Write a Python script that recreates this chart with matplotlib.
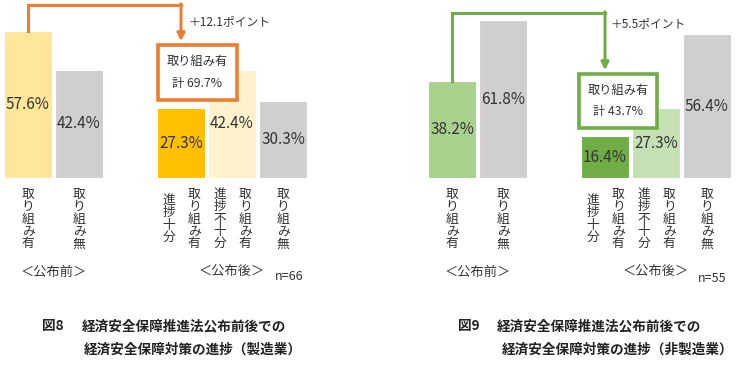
import matplotlib
matplotlib.use("Agg")
import matplotlib.pyplot as plt
from matplotlib.patches import Rectangle

plt.rcParams['font.family'] = ['Noto Sans CJK JP', 'DejaVu Sans']

# ---- data ----
mfg_before = [57.6, 42.4]
mfg_after = [27.3, 42.4, 30.3]
mfg_total = "計 69.7%"
mfg_diff = "＋12.1ポイント"
mfg_n = "n=66"

non_before = [38.2, 61.8]
non_after = [16.4, 27.3, 56.4]
non_total = "計 43.7%"
non_diff = "＋5.5ポイント"
non_n = "n=55"

before_labels = [["取り組み有"], ["取り組み無"]]
after_labels = [["進捗十分", "取り組み有"], ["進捗不十分", "取り組み有"], ["取り組み無"]]
group_labels = ["＜公布前＞", "＜公布後＞"]
box_title = "取り組み有"

titles = [("図8", "経済安全保障推進法公布前後での", "経済安全保障対策の進捗（製造業）"),
          ("図9", "経済安全保障推進法公布前後での", "経済安全保障対策の進捗（非製造業）")]

# ---- styles ----
grey = "#D0CECE"
mfg_colors = ["#FFE699", grey, "#FFC000", "#FFF2CC", grey]
non_colors = ["#A9D18E", grey, "#70AD47", "#C5E0B4", grey]
orange = "#ED7D31"
green = "#70AD47"
txt = "#333333"

W, H = 750, 371
fig = plt.figure(figsize=(W / 100, H / 100), dpi=100)

PX = 2.55          # pixels per percent
BASE = 178         # baseline pixel row
PITCH = 51         # pixels per slot
ylim = (-(H - BASE) / PX, BASE / PX)

positions = [0, 1, 3, 4, 5]


def vtext(ax, x, yc, s, fs=9.2):
    pitch = 12.4 / PX
    n = len(s)
    y0 = yc + (n - 1) / 2 * pitch
    for k, ch in enumerate(s):
        ax.text(x, y0 - k * pitch, ch, ha='center', va='center',
                fontsize=fs, color=txt)


def panel(ax, before, after, colors, accent, total, diff, n, box, arrow_top, diff_xy, n_xy, gl_y):
    ax.axis('off')
    ax.set_ylim(*ylim)
    vals = list(before) + list(after)
    ax.bar(positions, vals, width=0.94, color=colors, edgecolor='white', linewidth=0.8, zorder=1)
    for p, v in zip(positions, vals):
        ax.text(p, v / 2, f"{v:.1f}%", ha='center', va='center', fontsize=11, color=txt, zorder=3)
    # vertical category labels
    labs = before_labels + after_labels
    yc = (BASE - 219) / PX
    for p, lab in zip(positions, labs):
        if len(lab) == 1:
            vtext(ax, p, yc, lab[0])
        else:
            vtext(ax, p - 0.24, yc, lab[0])
            vtext(ax, p + 0.26, yc, lab[1])
    ax.text(0.5, gl_y, group_labels[0], ha='center', va='center', fontsize=9.5, color=txt)
    ax.text(4, gl_y, group_labels[1], ha='center', va='center', fontsize=9.5, color=txt)
    ax.text(n_xy[0], n_xy[1], n, ha='left', va='center', fontsize=9, color=txt)
    # box
    bx0, bx1, by0, by1 = box
    ax.add_patch(Rectangle((bx0, by0), bx1 - bx0, by1 - by0, facecolor='white',
                           edgecolor=accent, linewidth=2.6, zorder=4))
    cx = (bx0 + bx1) / 2
    ax.text(cx, by1 - 6.5, box_title, ha='center', va='center', fontsize=8.8, color=txt, zorder=5)
    ax.text(cx, by0 + 6.3, total, ha='center', va='center', fontsize=8.8, color=txt, zorder=5)
    # connector arrow
    x0 = positions[0]
    x1 = positions[2]
    ax.plot([x0, x0, x1], [before[0], arrow_top, arrow_top], color=accent, lw=2.2,
            solid_joinstyle='miter', zorder=2)
    ax.annotate("", xy=(x1, by1 + 1.5), xytext=(x1, arrow_top + 0.45),
                arrowprops=dict(arrowstyle='-|>', color=accent, lw=2.2,
                                mutation_scale=11, shrinkA=0, shrinkB=0), zorder=2)
    ax.text(diff_xy[0], diff_xy[1], diff, ha='left', va='center', fontsize=8.5, color=txt)


axL = fig.add_axes([0, 0, 0.5, 1])
axL.set_xlim((0 - 28) / PITCH, (375 - 28) / PITCH)
panel(axL, mfg_before, mfg_after, mfg_colors, orange, mfg_total, mfg_diff, mfg_n,
      box=((158 - 28) / PITCH, (237 - 28) / PITCH, (BASE - 100) / PX, (BASE - 45) / PX),
      arrow_top=(BASE - 5) / PX, diff_xy=((188 - 28) / PITCH, (BASE - 22) / PX),
      n_xy=((275 - 28) / PITCH, (BASE - 276) / PX), gl_y=(BASE - 272) / PX)

axR = fig.add_axes([0.5, 0, 0.5, 1])
axR.set_xlim((375 - 452) / PITCH, (750 - 452) / PITCH)
panel(axR, non_before, non_after, non_colors, green, non_total, non_diff, non_n,
      box=((579 - 452) / PITCH, (657 - 452) / PITCH, (BASE - 128) / PX, (BASE - 74) / PX),
      arrow_top=(BASE - 13) / PX, diff_xy=((610 - 452) / PITCH, (BASE - 24) / PX),
      n_xy=((698 - 452) / PITCH, (BASE - 278) / PX), gl_y=(BASE - 272) / PX)

# titles
for (fig_no, l1, l2), (xn, x1, x2) in zip(titles, [(42, 82, 84), (458, 497, 502)]):
    fig.text(xn / W, 1 - 326 / H, fig_no, ha='left', va='center', fontsize=9.8, weight='bold', color='#222222')
    fig.text(x1 / W, 1 - 326 / H, l1, ha='left', va='center', fontsize=9.8, weight='bold', color='#222222')
    fig.text(x2 / W, 1 - 350 / H, l2, ha='left', va='center', fontsize=9.8, weight='bold', color='#222222')

fig.savefig("out.png", dpi=100)
